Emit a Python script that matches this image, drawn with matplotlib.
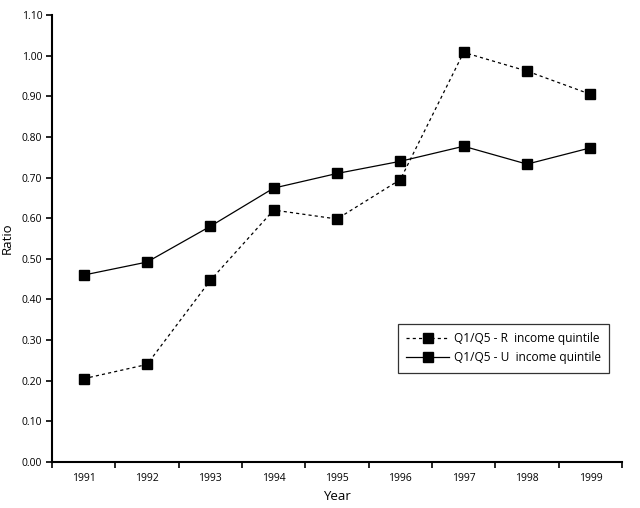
import matplotlib
matplotlib.use("Agg")
import matplotlib.pyplot as plt
from matplotlib.ticker import FixedLocator, NullFormatter

years = ["1991", "1992", "1993", "1994", "1995", "1996", "1997", "1998", "1999"]
ratio_r = [0.205, 0.24, 0.447, 0.62, 0.598, 0.695, 1.008, 0.962, 0.905]
ratio_u = [0.46, 0.492, 0.58, 0.674, 0.71, 0.74, 0.777, 0.733, 0.773]
y_ticks = [0.0, 0.1, 0.2, 0.3, 0.4, 0.5, 0.6, 0.7, 0.8, 0.9, 1.0, 1.1]

plt.rcParams["font.family"] = ["Open Sans", "DejaVu Sans"]

fig = plt.figure(figsize=(6.4, 5.08), dpi=100)
ax = fig.add_axes([52 / 640, 46 / 508, 570 / 640, 447 / 508])

x = list(range(len(years)))
ax.plot(x, ratio_r, linestyle=(0, (2.5, 2.5)), color="black", linewidth=0.9,
        marker="s", markersize=7, label="Q1/Q5 - R  income quintile")
ax.plot(x, ratio_u, linestyle="-", color="black", linewidth=0.9,
        marker="s", markersize=7, label="Q1/Q5 - U  income quintile")

ax.set_xlim(-0.5, len(years) - 0.5)
ax.set_ylim(0, 1.1)
ax.set_yticks(y_ticks)
ax.set_yticklabels([f"{v:.2f}" for v in y_ticks], fontsize=7.5)
ax.set_xticks(x)
ax.set_xticklabels(years, fontsize=7.5)
ax.tick_params(axis="x", which="major", length=0, pad=8)
ax.xaxis.set_minor_locator(FixedLocator([i + 0.5 for i in range(-1, len(years))]))
ax.xaxis.set_minor_formatter(NullFormatter())
ax.tick_params(axis="x", which="minor", direction="out", length=4, width=1.2)
ax.tick_params(axis="y", direction="out", length=4, width=1.2, pad=3)

for side in ["top", "right"]:
    ax.spines[side].set_visible(False)
for side in ["left", "bottom"]:
    ax.spines[side].set_linewidth(1.5)

ax.set_xlabel("Year", fontsize=9.5, labelpad=4)
ax.set_ylabel("Ratio", fontsize=9.5, labelpad=6)

leg = ax.legend(loc="upper left", bbox_to_anchor=(0.607, 0.309), borderaxespad=0,
                fontsize=8.6, frameon=True, fancybox=False, edgecolor="black",
                handlelength=3.6, handletextpad=0.4, borderpad=0.7,
                labelspacing=0.5)
leg.get_frame().set_linewidth(0.9)

fig.savefig("out.png", dpi=100)
